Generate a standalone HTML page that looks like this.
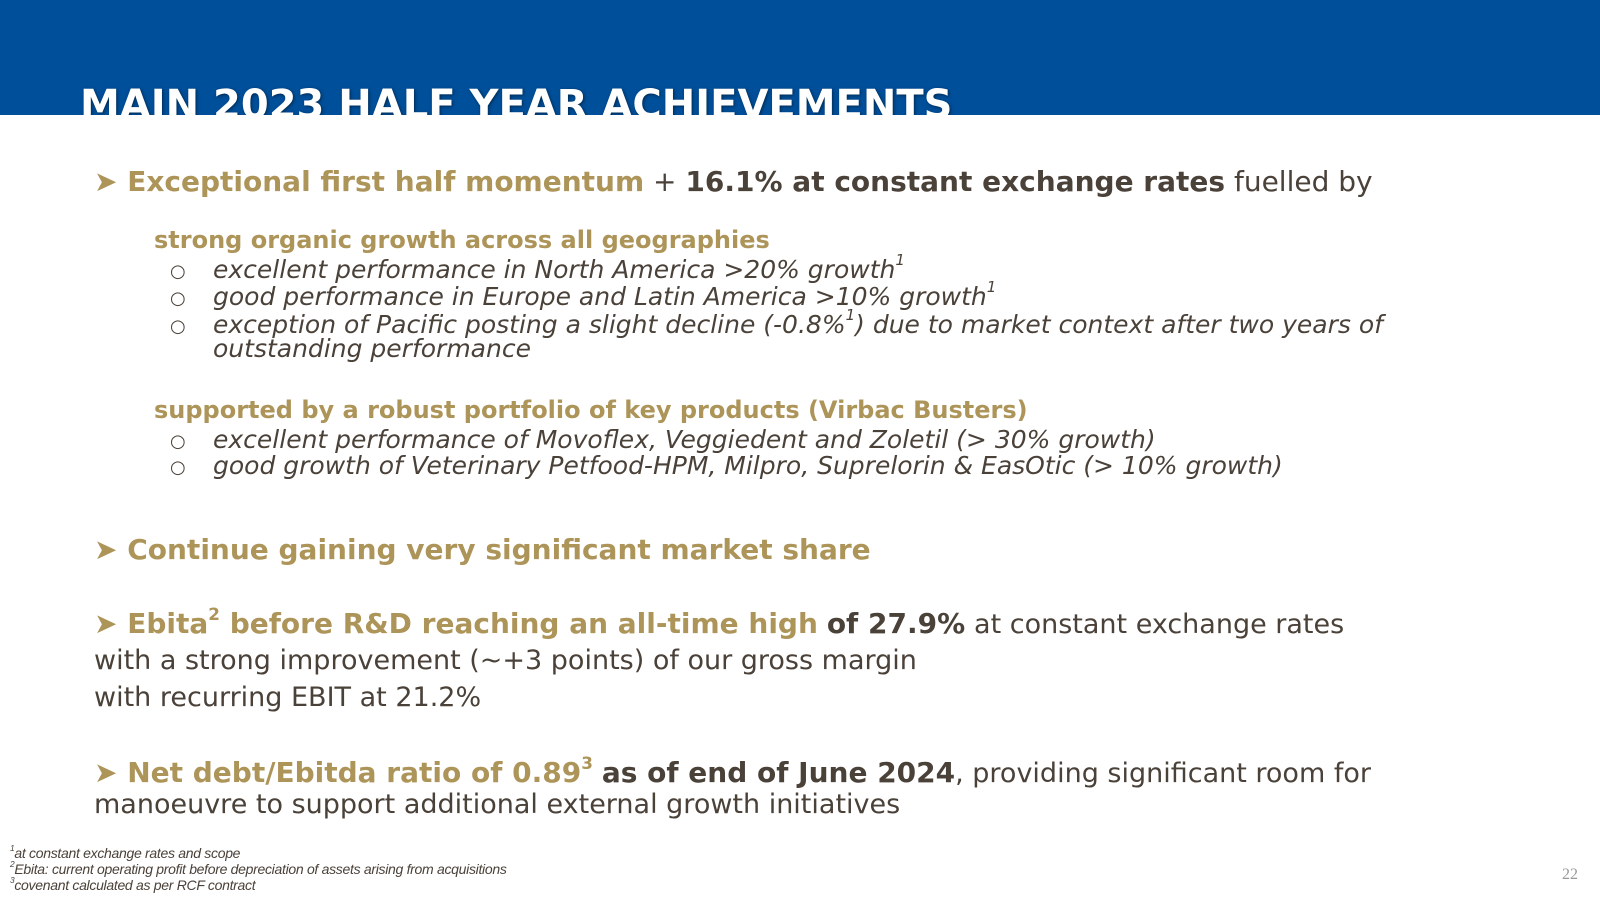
<!DOCTYPE html>
<html><head><meta charset="utf-8"><style>
body{margin:0;width:1600px;height:900px;background:#fff;position:relative;overflow:hidden;font-family:"DejaVu Sans",sans-serif;color:#4a4139}
.bar{position:absolute;left:0;top:0;width:1600px;height:115px;background:#004f9a;overflow:hidden}
.title{position:absolute;left:80px;top:82px;font:bold 40px "DejaVu Sans",sans-serif;color:#fff;white-space:nowrap;text-shadow:1px 1px 3px rgba(0,0,0,.5)}
.l{position:absolute;white-space:nowrap;line-height:1}
.g{color:#ad9458;font-weight:bold}
.d{color:#4a4139;font-weight:bold}
.h{font-size:28px}
.s{font-size:24px}
.i{font-size:25px;font-style:italic}
.c{position:absolute;font-size:18px;color:#4a4139}
.n{font-size:27px}
sup{font-size:60%;vertical-align:top;position:relative;top:-4px}
.f{position:absolute;left:10px;font:italic 14px "Liberation Sans",sans-serif;color:#4a4139;white-space:nowrap;letter-spacing:-0.3px}
.f sup{top:-2px}
</style></head><body>
<div class="bar"><div class="title">MAIN 2023 HALF YEAR ACHIEVEMENTS</div></div>

<div class="l h" style="left:94px;top:168px"><span class="g">➤ Exceptional first half momentum</span> + <span class="d">16.1% at constant exchange rates</span> fuelled by</div>

<div class="l s g" style="left:154px;top:228px">strong organic growth across all geographies</div>
<div class="c" style="left:170px;top:261px">○</div><div class="l i" style="left:213px;top:257px">excellent performance in North America &gt;20% growth<sup>1</sup></div>
<div class="c" style="left:170px;top:288px">○</div><div class="l i" style="left:213px;top:284px">good performance in Europe and Latin America &gt;10% growth<sup>1</sup></div>
<div class="c" style="left:170px;top:316px">○</div><div class="l i" style="left:213px;top:312px">exception of Pacific posting a slight decline (-0.8%<sup>1</sup>) due to market context after two years of</div>
<div class="l i" style="left:213px;top:336px">outstanding performance</div>

<div class="l s g" style="left:154px;top:398px">supported by a robust portfolio of key products (Virbac Busters)</div>
<div class="c" style="left:170px;top:431px">○</div><div class="l i" style="left:213px;top:427px">excellent performance of Movoflex, Veggiedent and Zoletil (&gt; 30% growth)</div>
<div class="c" style="left:170px;top:457px">○</div><div class="l i" style="left:213px;top:453px">good growth of Veterinary Petfood-HPM, Milpro, Suprelorin &amp; EasOtic (&gt; 10% growth)</div>

<div class="l h g" style="left:94px;top:536px">➤ Continue gaining very significant market share</div>

<div class="l h" style="left:94px;top:610px"><span class="g">➤ Ebita<sup>2</sup> before R&amp;D reaching an all-time high</span> <span class="d">of 27.9%</span> <span class="n">at constant exchange rates</span></div>
<div class="l n" style="left:94px;top:647px">with a strong improvement (~+3 points) of our gross margin</div>
<div class="l n" style="left:94px;top:684px">with recurring EBIT at 21.2%</div>

<div class="l h" style="left:94px;top:759px"><span class="g">➤ Net debt/Ebitda ratio of 0.89<sup>3</sup></span> <span class="d">as of end of June 2024</span><span class="n">, providing significant room for</span></div>
<div class="l n" style="left:94px;top:791px">manoeuvre to support additional external growth initiatives</div>

<div class="f" style="top:845px"><sup>1</sup>at constant exchange rates and scope</div>
<div class="f" style="top:861px"><sup>2</sup>Ebita: current operating profit before depreciation of assets arising from acquisitions</div>
<div class="f" style="top:877px"><sup>3</sup>covenant calculated as per RCF contract</div>
<div style="position:absolute;left:1562px;top:866px;font:16px 'Liberation Serif',serif;color:#999">22</div>
</body></html>
